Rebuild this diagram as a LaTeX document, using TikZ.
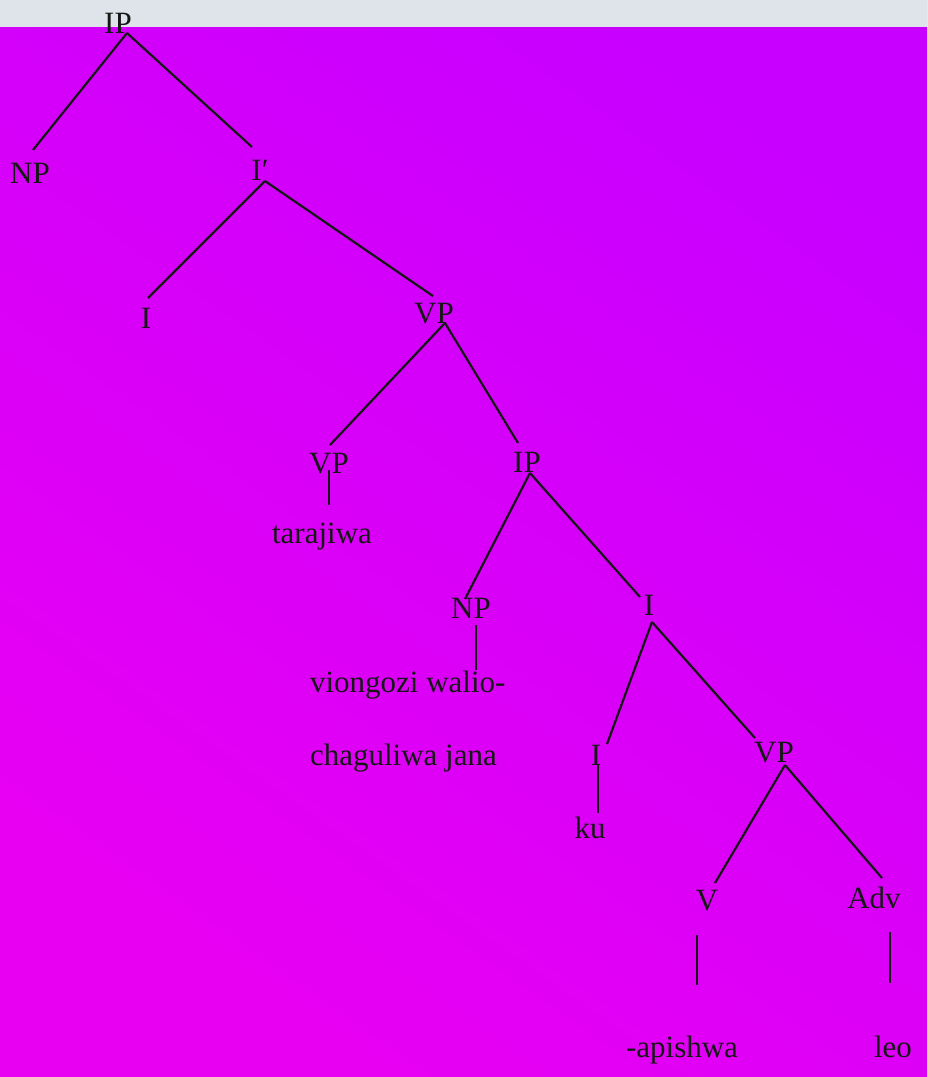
\documentclass[tikz,border=0pt]{standalone}
\usepackage{fontspec}
\setmainfont{Liberation Serif}
\usetikzlibrary{calc}
\definecolor{bgtop}{RGB}{200,0,255}
\definecolor{bgbot}{RGB}{232,0,242}
\definecolor{strip}{RGB}{222,228,233}
\definecolor{ink}{RGB}{22,24,22}
\begin{document}
\begin{tikzpicture}[x=1pt,y=-1pt,
  lbl/.style={anchor=base,inner sep=0pt,outer sep=0pt,text=ink,font=\fontsize{31}{36}\selectfont},
  edge/.style={draw=ink,line width=2.2pt}]
\useasboundingbox (0,0) rectangle (927,1077);
\shade[top color=bgtop,bottom color=bgbot,shading angle=-35] (0,0) rectangle (927,1077);
\fill[strip] (0,0) rectangle (927,27);
% nodes
\node[lbl] (IP1) at (118,33) {IP};
\node[lbl] (NP1) at (30,183) {NP};
\node[lbl] (Ibar) at (260,180) {I′};
\node[lbl] (I1) at (146,328) {I};
\node[lbl] (VP1) at (434,323) {VP};
\node[lbl] (VP2) at (329,473) {VP};
\node[lbl] (tar) at (322,543) {tarajiwa};
\node[lbl] (IP2) at (527,472) {IP};
\node[lbl] (NP2) at (471,618) {NP};
\node[lbl,anchor=base west] (vio) at (310,692) {viongozi walio-};
\node[lbl,anchor=base west] (cha) at (310,765) {chaguliwa jana};
\node[lbl] (I2) at (649,615) {I};
\node[lbl] (I3) at (596,765) {I};
\node[lbl] (ku) at (590,838) {ku};
\node[lbl] (VP3) at (774,762) {VP};
\node[lbl] (V) at (707,910) {V};
\node[lbl] (Adv) at (874,908) {Adv};
\node[lbl] (api) at (682,1057) {-apishwa};
\node[lbl] (leo) at (893,1057) {leo};
% edges
\draw[edge] ($(IP1.base)+(9,0)$) -- ($(NP1.base)+(3,-33)$);
\draw[edge] ($(IP1.base)+(9,0)$) -- ($(Ibar.base)+(-8,-33)$);
\draw[edge] ($(Ibar.base)+(5,1)$) -- ($(I1.base)+(2,-30)$);
\draw[edge] ($(Ibar.base)+(5,1)$) -- ($(VP1.base)+(-1,-27)$);
\draw[edge] ($(VP1.base)+(11,0)$) -- ($(VP2.base)+(1,-28)$);
\draw[edge] ($(VP1.base)+(11,0)$) -- ($(IP2.base)+(-9,-29)$);
\draw[edge] ($(VP2.base)+(0,-3)$) -- ($(tar.base)+(7,-38)$);
\draw[edge] ($(IP2.base)+(3,1)$) -- ($(NP2.base)+(-6,-19)$);
\draw[edge] ($(IP2.base)+(3,1)$) -- ($(I2.base)+(-9,-18)$);
\draw[edge] ($(NP2.base)+(5,7)$) -- ($(NP2.base)+(5,52)$);
\draw[edge] ($(I2.base)+(3,7)$) -- ($(I3.base)+(11,-21)$);
\draw[edge] ($(I2.base)+(3,7)$) -- ($(VP3.base)+(-19,-24)$);
\draw[edge] ($(I3.base)+(2,0)$) -- ($(ku.base)+(8,-25)$);
\draw[edge] ($(VP3.base)+(11,3)$) -- ($(V.base)+(8,-27)$);
\draw[edge] ($(VP3.base)+(11,3)$) -- ($(Adv.base)+(8,-30)$);
\draw[edge] ($(V.base)+(-10,25)$) -- ($(api.base)+(15,-72)$);
\draw[edge] ($(Adv.base)+(16,24)$) -- ($(leo.base)+(-3,-74)$);
\end{tikzpicture}
\end{document}
